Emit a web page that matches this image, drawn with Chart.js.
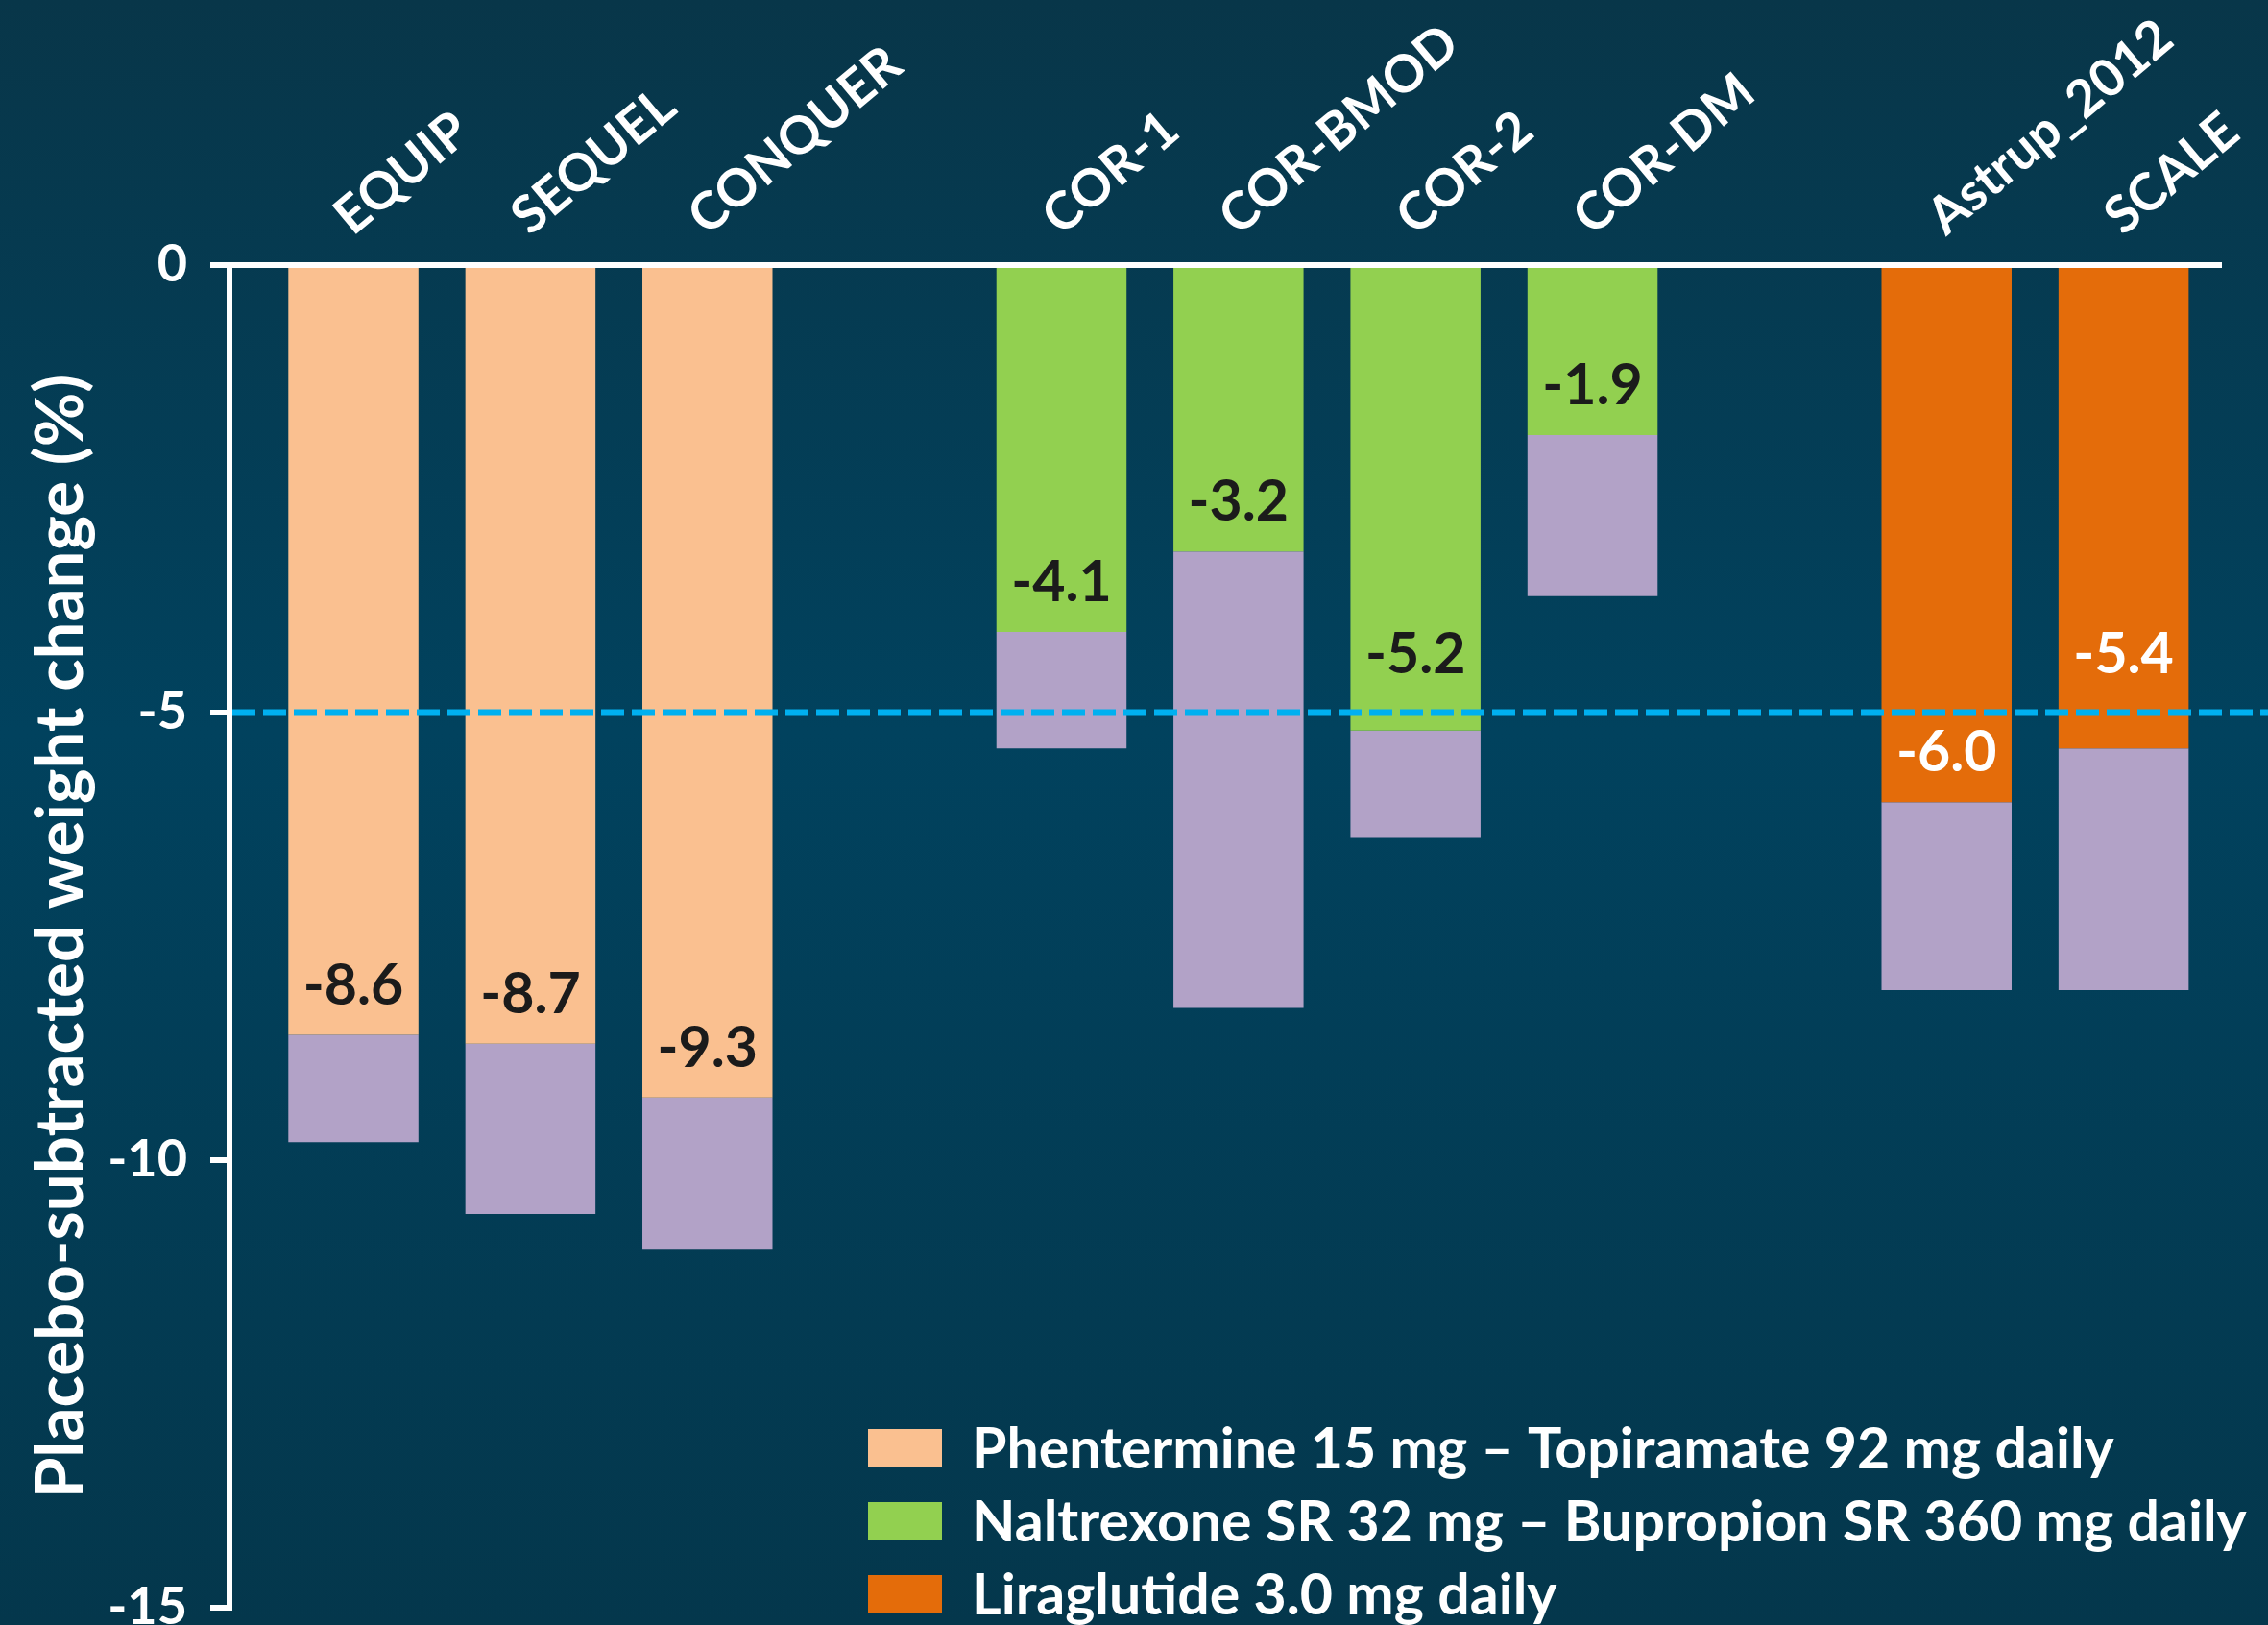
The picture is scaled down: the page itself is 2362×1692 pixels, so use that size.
<!DOCTYPE html>
<html>
<head>
<meta charset="utf-8">
<script src="https://cdn.jsdelivr.net/npm/chart.js@4.4.1/dist/chart.umd.min.js"></script>
<style>
  html, body { margin: 0; padding: 0; background: #03405a; overflow: hidden; }
  #wrap { width: 2362px; height: 1692px; position: relative; }
</style>
</head>
<body>
<div id="wrap"><canvas id="chart"></canvas></div>
<script>
// Trials in display order; empty strings leave a gap between drug groups.
const studies = ['EQUIP', 'SEQUEL', 'CONQUER', '', 'COR-1', 'COR-BMOD', 'COR-2', 'COR-DM', '', 'Astrup_2012', 'SCALE'];

// Placebo-subtracted weight change (%) per drug.
const phenTopiramate      = [-8.6, -8.7, -9.3, null, null, null, null, null, null, null, null];
const naltrexoneBupropion = [null, null, null, null, -4.1, -3.2, -5.2, -1.9, null, null, null];
const liraglutide         = [null, null, null, null, null, null, null, null, null, -6.0, -5.4];

// Total weight change (%) in the active arm.
const armTotal = [-9.8, -10.6, -11.0, null, -5.4, -8.3, -6.4, -3.7, null, -8.1, -8.1];

const seriesNames = [
  'Phentermine 15 mg \u2013 Topiramate 92 mg daily',
  'Naltrexone SR 32 mg \u2013 Bupropion SR 360 mg daily',
  'Liraglutide 3.0 mg daily'
];
const yTicks = [0, -5, -10, -15];
const threshold = -5;

const mainSeries = [phenTopiramate, naltrexoneBupropion, liraglutide];
const mainColors = ['#fac090', '#92d050', '#e46c0a'];
const valueColors = ['#1b1b1b', '#1b1b1b', '#ffffff'];
const totalColor = '#b2a2c7';
const FONT = 'Lato';

const mainAt = i => {
  for (const s of mainSeries) if (s[i] !== null) return s[i];
  return null;
};
const toPoints = arr => arr.map((v, i) => (v === null ? null : { x: i, y: v })).filter(Boolean);
const remainder = armTotal.map((t, i) => (t === null ? null : +(t - mainAt(i)).toFixed(2)));

const barStyle = { barPercentage: 0.735, categoryPercentage: 1.0, borderWidth: 0 };

const datasets = mainSeries.map((s, k) => Object.assign({
  label: seriesNames[k],
  data: toPoints(s),
  backgroundColor: mainColors[k],
  valueColor: valueColors[k]
}, barStyle)).concat([Object.assign({
  label: 'Total',
  data: toPoints(remainder),
  backgroundColor: totalColor,
  isTotal: true
}, barStyle)]);

// Page background: deep teal wash.
const backdrop = {
  id: 'backdrop',
  beforeDraw(chart) {
    const { ctx, width, height } = chart;
    const g = ctx.createLinearGradient(0, 0, 0, height);
    g.addColorStop(0, '#083649');
    g.addColorStop(0.45, '#01425e');
    g.addColorStop(1, '#04374c');
    ctx.save();
    ctx.fillStyle = g;
    ctx.fillRect(0, 0, width, height);
    ctx.restore();
  }
};

// Dashed reference line at the -5 % threshold.
const thresholdLine = {
  id: 'thresholdLine',
  afterDatasetsDraw(chart) {
    const { ctx, chartArea, scales } = chart;
    const y = scales.y.getPixelForValue(threshold);
    ctx.save();
    ctx.strokeStyle = '#00b0f0';
    ctx.lineWidth = 7;
    ctx.setLineDash([24, 8]);
    ctx.beginPath();
    ctx.moveTo(chartArea.left + 3, y);
    ctx.lineTo(chart.width, y);
    ctx.stroke();
    ctx.restore();
  }
};

// Value of each placebo-subtracted bar, written just above the end of the bar.
const valueLabels = {
  id: 'valueLabels',
  afterDatasetsDraw(chart) {
    const { ctx, scales } = chart;
    const lineY = scales.y.getPixelForValue(threshold);
    ctx.save();
    ctx.font = `bold 59px ${FONT}`;
    ctx.textAlign = 'center';
    ctx.textBaseline = 'middle';
    chart.data.datasets.forEach((ds, di) => {
      if (ds.isTotal) return;
      const meta = chart.getDatasetMeta(di);
      meta.data.forEach((bar, j) => {
        const v = ds.data[j].y;
        let y = bar.y - 51;
        if (y < lineY + 20 && Math.abs(y - lineY) < 48) y = Math.min(y, lineY - 60);
        ctx.fillStyle = ds.valueColor;
        ctx.fillText(v.toFixed(1), bar.x, y);
      });
    });
    ctx.restore();
  }
};

// Drug legend in the lower right of the plot.
const drugLegend = {
  id: 'drugLegend',
  afterDraw(chart) {
    const { ctx, chartArea } = chart;
    const x0 = chartArea.left + 665;
    const y0 = chartArea.bottom - 166;
    const rowH = 76;
    ctx.save();
    ctx.font = `bold 59px ${FONT}`;
    ctx.textAlign = 'left';
    ctx.textBaseline = 'middle';
    chart.data.datasets.forEach((ds, i) => {
      if (ds.isTotal) return;
      const cy = y0 + i * rowH;
      ctx.fillStyle = ds.backgroundColor;
      ctx.fillRect(x0, cy - 20, 77, 40);
      ctx.fillStyle = '#ffffff';
      ctx.fillText(ds.label, x0 + 108, cy + 2);
    });
    ctx.restore();
  }
};

function draw() {
  new Chart(document.getElementById('chart'), {
    type: 'bar',
    data: { datasets },
    options: {
      responsive: true,
      maintainAspectRatio: false,
      devicePixelRatio: 1,
      animation: false,
      events: [],
      layout: { padding: { left: 0, top: 0, right: 49, bottom: 18 } },
      plugins: { legend: { display: false }, tooltip: { enabled: false } },
      scales: {
        x: {
          type: 'linear',
          position: 'top',
          min: -0.7,
          max: 10.55,
          stacked: true,
          offset: false,
          afterBuildTicks: s => { s.ticks = studies.map((_, i) => ({ value: i })); },
          afterFit: s => { s.height = 276; s.paddingLeft = 0; s.paddingRight = 0; },
          grid: { display: false, drawTicks: false, tickLength: 0 },
          border: { display: true, color: '#ffffff', width: 6 },
          ticks: {
            autoSkip: false,
            minRotation: 40,
            maxRotation: 40,
            padding: 18,
            labelOffset: 30,
            color: '#ffffff',
            font: { family: FONT, size: 54, weight: 'bold' },
            callback: v => studies[v] ?? ''
          }
        },
        y: {
          min: -15,
          max: 0,
          stacked: true,
          afterBuildTicks: s => { s.ticks = yTicks.map(v => ({ value: v })); },
          afterFit: s => { s.width = 239; s.paddingTop = 0; s.paddingBottom = 0; },
          grid: { display: true, drawOnChartArea: false, drawTicks: true, tickLength: 20, color: '#ffffff', lineWidth: 6 },
          border: { display: true, color: '#ffffff', width: 6 },
          ticks: {
            padding: 24,
            color: '#ffffff',
            font: { family: FONT, size: 54, weight: 'bold' }
          },
          title: {
            display: true,
            text: 'Placebo-subtracted weight change (%)',
            color: '#ffffff',
            font: { family: FONT, size: 69, weight: 'bold' },
            padding: { top: 22, bottom: 0 }
          }
        }
      }
    },
    plugins: [backdrop, thresholdLine, valueLabels, drugLegend]
  });
}

document.fonts.load(`bold 59px ${FONT}`).then(draw, draw);
</script>
</body>
</html>
